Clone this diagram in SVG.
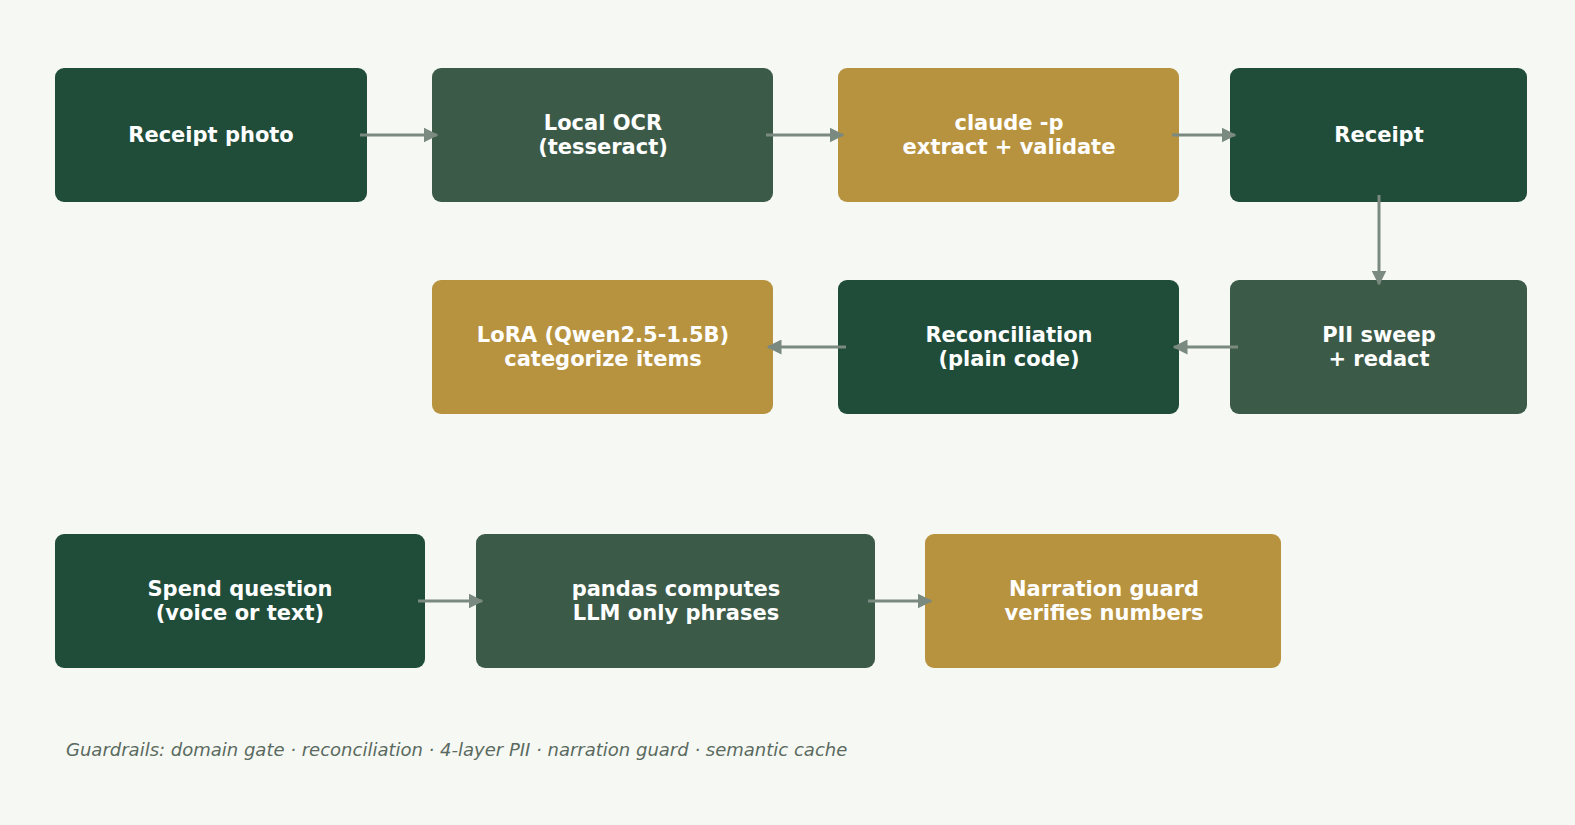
<svg xmlns="http://www.w3.org/2000/svg" width="1575" height="825" viewBox="0 0 1575 825">
<style>
.t{font-family:"DejaVu Sans",sans-serif;font-weight:bold;font-size:21px;fill:#fff;text-anchor:middle}
.a{fill:#204d3a}.b{fill:#3c5a48}.c{fill:#b8933f}
.e{stroke:#7a8a80;stroke-width:3;fill:none;marker-end:url(#m)}
</style>
<defs><marker id="m" viewBox="0 0 10 10" refX="9" refY="5" markerWidth="5" markerHeight="5" orient="auto"><path d="M0,0L10,5L0,10z" fill="#7a8a80"/></marker></defs>
<rect width="1575" height="825" fill="#f6f8f3"/>
<g id="n1"><rect class="a" x="55" y="68" width="312" height="134" rx="9"/><text class="t" x="211" y="142">Receipt photo</text></g>
<g id="n2"><rect class="b" x="432" y="68" width="341" height="134" rx="9"/><text class="t" x="603" y="130">Local OCR</text><text class="t" x="603" y="154">(tesseract)</text></g>
<g id="n3"><rect class="c" x="838" y="68" width="341" height="134" rx="9"/><text class="t" x="1009" y="130">claude -p</text><text class="t" x="1009" y="154">extract + validate</text></g>
<g id="n4"><rect class="a" x="1230" y="68" width="297" height="134" rx="9"/><text class="t" x="1379" y="142">Receipt</text></g>
<g id="n5"><rect class="b" x="1230" y="280" width="297" height="134" rx="9"/><text class="t" x="1379" y="342">PII sweep</text><text class="t" x="1379" y="366">+ redact</text></g>
<g id="n6"><rect class="a" x="838" y="280" width="341" height="134" rx="9"/><text class="t" x="1009" y="342">Reconciliation</text><text class="t" x="1009" y="366">(plain code)</text></g>
<g id="n7"><rect class="c" x="432" y="280" width="341" height="134" rx="9"/><text class="t" x="603" y="342">LoRA (Qwen2.5-1.5B)</text><text class="t" x="603" y="366">categorize items</text></g>
<g id="n8"><rect class="a" x="55" y="534" width="370" height="134" rx="9"/><text class="t" x="240" y="596">Spend question</text><text class="t" x="240" y="620">(voice or text)</text></g>
<g id="n9"><rect class="b" x="476" y="534" width="399" height="134" rx="9"/><text class="t" x="676" y="596">pandas computes</text><text class="t" x="676" y="620">LLM only phrases</text></g>
<g id="n10"><rect class="c" x="925" y="534" width="356" height="134" rx="9"/><text class="t" x="1104" y="596">Narration guard</text><text class="t" x="1104" y="620">verifies numbers</text></g>
<g id="edges">
<path class="e" d="M360,135H437"/><path class="e" d="M766,135H843"/><path class="e" d="M1172,135H1235"/>
<path class="e" d="M1379,195V284"/><path class="e" d="M1238,347H1174"/><path class="e" d="M846,347H768"/>
<path class="e" d="M418,601H482"/><path class="e" d="M868,601H931"/>
</g>
<text x="66" y="756" font-family="DejaVu Sans,sans-serif" font-style="italic" font-size="18" fill="#5a6a60">Guardrails: domain gate · reconciliation · 4-layer PII · narration guard · semantic cache</text>
</svg>
